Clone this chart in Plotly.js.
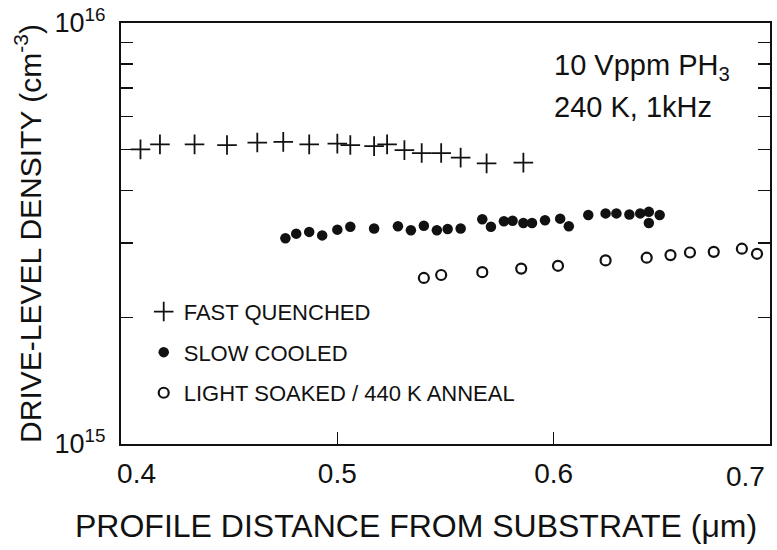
<!DOCTYPE html>
<html>
<head>
<meta charset="utf-8">
<script src="https://cdn.plot.ly/plotly-3.0.1.min.js"></script>
<style>html,body{margin:0;padding:0;background:#fff;}#chart{width:777px;height:550px;}</style>
</head>
<body>
<div id="chart"></div>
<script>
// Fast quenched (+)
const fastX = [0.409,0.418,0.434,0.449,0.463,0.475,0.487,0.500,0.506,0.517,0.523,0.531,0.539,0.548,0.557,0.569,0.586];
const fastY = [5.01e15,5.15e15,5.15e15,5.13e15,5.20e15,5.22e15,5.15e15,5.17e15,5.13e15,5.10e15,5.15e15,4.99e15,4.91e15,4.91e15,4.79e15,4.64e15,4.66e15];
// Slow cooled (filled circles)
const slowX = [0.476,0.481,0.487,0.493,0.500,0.506,0.517,0.528,0.534,0.540,0.546,0.551,0.557,0.567,0.571,0.577,0.581,0.586,0.590,0.596,0.603,0.607,0.616,0.624,0.629,0.635,0.640,0.644,0.644,0.649];
const slowY = [3.08e15,3.16e15,3.19e15,3.13e15,3.23e15,3.28e15,3.25e15,3.29e15,3.22e15,3.30e15,3.22e15,3.24e15,3.25e15,3.42e15,3.28e15,3.38e15,3.39e15,3.35e15,3.35e15,3.40e15,3.43e15,3.29e15,3.50e15,3.53e15,3.53e15,3.51e15,3.53e15,3.56e15,3.35e15,3.50e15];
// Light soaked / 440 K anneal (open circles)
const lightX = [0.540,0.548,0.567,0.585,0.602,0.624,0.643,0.654,0.663,0.674,0.687,0.694];
const lightY = [2.48e15,2.52e15,2.56e15,2.61e15,2.65e15,2.73e15,2.77e15,2.81e15,2.85e15,2.86e15,2.91e15,2.83e15];

const xTickVals = [0.4,0.5,0.6,0.7];
const xTickText = ['\u00a0\u00a0\u00a0\u00a00.4','0.5','0.6',''];
const xLastTick = {val:0.7, text:'0.7'};   // drawn as annotation so it stays inside the page
const yTickVals = [1e15,2e15,3e15,4e15,5e15,6e15,7e15,8e15,9e15,1e16];
const yTickText = ['10<sup>15</sup>','','','','','','','','','10<sup>16</sup>'];

const seriesNames = ['FAST QUENCHED','SLOW COOLED','LIGHT SOAKED / 440 K ANNEAL'];
const noteLines = ['10 Vppm PH<sub>3</sub>','240 K, 1kHz'];
const xTitle = 'PROFILE DISTANCE FROM SUBSTRATE (μm)';
const yTitle = 'DRIVE-LEVEL DENSITY (cm<sup>-3</sup>)';

const FONT = 'Liberation Sans, Arial, Helvetica, sans-serif';
const INK = '#111111';

const traces = [
  {x: fastX, y: fastY, name: seriesNames[0], legendgroup:'a', type:'scatter', mode:'markers',
   marker:{symbol:'cross-thin', size:14, color:INK, line:{color:INK, width:1.8}}},
  {x: slowX, y: slowY, name: seriesNames[1], legendgroup:'b', type:'scatter', mode:'markers',
   marker:{symbol:'circle', size:10.5, color:INK, line:{width:0}}},
  {x: lightX, y: lightY, name: seriesNames[2], legendgroup:'c', type:'scatter', mode:'markers',
   marker:{symbol:'circle-open', size:10, color:INK, line:{color:INK, width:2.2}}}
];

const layout = {
  width:777, height:550,
  margin:{l:121, r:7, t:23, b:106},
  paper_bgcolor:'#fff', plot_bgcolor:'#fff',
  font:{family:FONT, color:INK},
  showlegend:true,
  legend:{x:0.035, y:0.364, xanchor:'left', yanchor:'top', bgcolor:'rgba(0,0,0,0)',
          font:{size:22, family:FONT, color:INK}, tracegroupgap:9, itemwidth:30},
  xaxis:{range:[0.4,0.7], tickmode:'array', tickvals:xTickVals, ticktext:xTickText,
         ticks:'inside', ticklen:12, tickwidth:1.5, tickcolor:INK,
         showline:true, linecolor:INK, linewidth:2, mirror:true, showgrid:false, zeroline:false,
         tickfont:{size:28, family:FONT, color:INK}, ticklabelstandoff:3},
  yaxis:{type:'log', range:[15,16], tickmode:'array', tickvals:yTickVals, ticktext:yTickText,
         ticks:'inside', ticklen:12, tickwidth:1.5, tickcolor:INK,
         showline:true, linecolor:INK, linewidth:2, mirror:'ticks', showgrid:false, zeroline:false,
         tickfont:{size:27, family:FONT, color:INK}, ticklabelstandoff:8,
         title:{text:yTitle, font:{size:30, family:FONT, color:INK}, standoff:4}},
  annotations:[
    {text:noteLines[0], xref:'paper', yref:'paper', x:0.664, y:0.895, xanchor:'left', yanchor:'middle', showarrow:false, font:{size:29, family:FONT, color:INK}},
    {text:noteLines[1], xref:'paper', yref:'paper', x:0.664, y:0.80, xanchor:'left', yanchor:'middle', showarrow:false, font:{size:29, family:FONT, color:INK}},
    {text:xLastTick.text, xref:'x', yref:'paper', x:xLastTick.val, xshift:-25, y:0, yshift:-15, xanchor:'center', yanchor:'top', showarrow:false, font:{size:28, family:FONT, color:INK}},
    {text:xTitle, xref:'paper', yref:'paper', x:0.4545, y:-0.195, xanchor:'center', yanchor:'middle', showarrow:false, font:{size:32, family:FONT, color:INK}}
  ]
};

Plotly.newPlot('chart', traces, layout, {displayModeBar:false, staticPlot:true});
</script>
</body>
</html>
